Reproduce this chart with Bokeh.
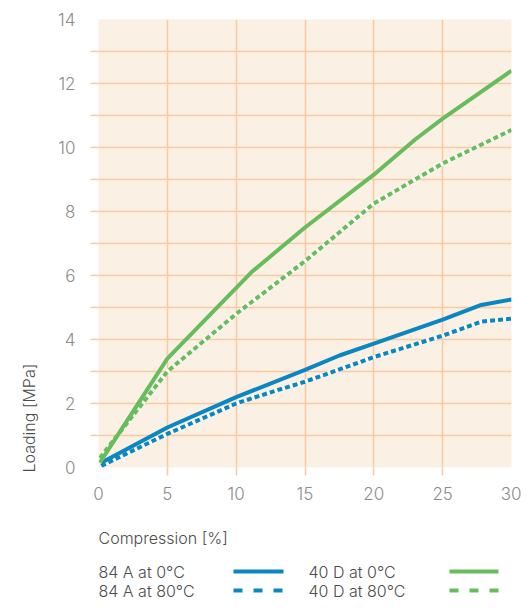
from bokeh.plotting import figure
from bokeh.models import FixedTicker, Range1d, Title
from bokeh.layouts import column
from bokeh.embed import file_html
from bokeh.resources import INLINE
from bokeh.core.properties import value

# ---- data ----
x_84A_0C = [0.2, 5, 10, 15, 17.5, 20, 25, 27.8, 30]
y_84A_0C = [0.15, 1.25, 2.2, 3.05, 3.5, 3.87, 4.62, 5.08, 5.25]

x_84A_80C = [0.2, 5, 10, 12.5, 15, 20, 25, 27.8, 30]
y_84A_80C = [0.05, 1.05, 2.0, 2.35, 2.68, 3.45, 4.12, 4.56, 4.65]

x_40D_0C = [0.1, 5, 11.1, 15, 20, 23, 25, 30]
y_40D_0C = [0.15, 3.4, 6.1, 7.5, 9.15, 10.25, 10.9, 12.4]

x_40D_80C = [0.1, 5, 10, 15, 20, 25, 30]
y_40D_80C = [0.3, 3.0, 4.8, 6.45, 8.25, 9.5, 10.55]

legend_labels = ["84 A at 0°C", "84 A at 80°C", "40 D at 0°C", "40 D at 80°C"]
x_title = "Compression [%]"
y_title = "Loading [MPa]"

x_tick_labels = [0, 5, 10, 15, 20, 25, 30]
x_grid = [5, 10, 15, 20, 25]
y_tick_labels = [0, 2, 4, 6, 8, 10, 12, 14]
y_grid = list(range(1, 14))

# ---- styles ----
BLUE = "#0a86c3"
GREEN = "#67bd5c"
BG = "#faf0e4"
GRID = "#f8c9a3"
TICK_TXT = "#8c8c8c"
TXT = "#4d4d4d"
FONT = "Inter Light, Inter"
FS = "16px"
W = 521
BL, BR = 98, 10
H_MAIN = 510

p = figure(width=W, height=H_MAIN, x_range=Range1d(0, 30), y_range=Range1d(0, 14),
           toolbar_location=None, output_backend="svg",
           min_border_left=BL, min_border_right=BR, min_border_top=19,
           min_border_bottom=H_MAIN - 467)
p.background_fill_color = BG
p.border_fill_color = "white"
p.outline_line_color = None

p.xaxis.ticker = FixedTicker(ticks=x_tick_labels, minor_ticks=x_grid)
p.yaxis.ticker = FixedTicker(ticks=y_tick_labels, minor_ticks=y_grid)
p.xgrid.ticker = FixedTicker(ticks=x_grid)
p.ygrid.ticker = FixedTicker(ticks=y_grid)
for g in (p.xgrid, p.ygrid):
    g.grid_line_color = GRID
    g.grid_line_width = 1.5

for ax in (p.xaxis, p.yaxis):
    ax.axis_line_color = None
    ax.major_tick_out = 0
    ax.major_tick_in = 0
    ax.minor_tick_out = 8
    ax.minor_tick_in = 0
    ax.minor_tick_line_color = GRID
    ax.minor_tick_line_width = 1.5
    ax.major_label_text_font = FONT
    ax.major_label_text_font_size = "17px"
    ax.major_label_text_color = TICK_TXT
p.xaxis.major_label_standoff = 11
p.yaxis.major_label_standoff = 15

# dashed lines: white base then dashes
p.line(x_84A_80C, y_84A_80C, line_color="white", line_width=4)
p.line(x_84A_80C, y_84A_80C, line_color=BLUE, line_width=4, line_dash="5 3")
p.line(x_84A_0C, y_84A_0C, line_color=BLUE, line_width=4)
p.line(x_40D_80C, y_40D_80C, line_color="white", line_width=4)
p.line(x_40D_80C, y_40D_80C, line_color=GREEN, line_width=4, line_dash="5 3")
p.line(x_40D_0C, y_40D_0C, line_color=GREEN, line_width=4)

# y axis title (bottom aligned)
p.add_layout(Title(text=y_title, align="left", offset=-5, standoff=33,
                   text_font=FONT, text_font_size=FS, text_color=TXT,
                   text_font_style="normal"), "left")

# ---- lower strip: x title + legend (its own figure; data units = page pixels) ----
lg = figure(width=W, height=600 - H_MAIN, x_range=Range1d(BL, W - BR),
            y_range=Range1d(600, H_MAIN),
            toolbar_location=None, output_backend="svg", x_axis_type=None, y_axis_type=None,
            min_border_left=BL, min_border_right=BR, min_border_top=0, min_border_bottom=0,
            title=None)
lg.outline_line_color = None
lg.grid.visible = False
lg.background_fill_color = "white"
lg.border_fill_color = "white"

lg.text(x=[98], y=[537], text=[x_title],
        text_font=value(FONT), text_font_size=FS, text_color=TXT,
        text_align="left", text_baseline="middle")

row1, row2 = 571, 590
lg.text(x=[98, 98, 308, 308], y=[row1, row2, row1, row2], text=legend_labels,
        text_font=value(FONT), text_font_size=FS, text_color=TXT,
        text_align="left", text_baseline="middle")
lg.line([233, 283], [row1, row1], line_color=BLUE, line_width=4)
lg.line([233, 283], [row2, row2], line_color=BLUE, line_width=4, line_dash="9 11")
lg.line([449, 498], [row1, row1], line_color=GREEN, line_width=4)
lg.line([449, 498], [row2, row2], line_color=GREEN, line_width=4, line_dash="9 11")

layout = column(p, lg, spacing=0)
open("out.html", "w").write(file_html(layout, INLINE))
